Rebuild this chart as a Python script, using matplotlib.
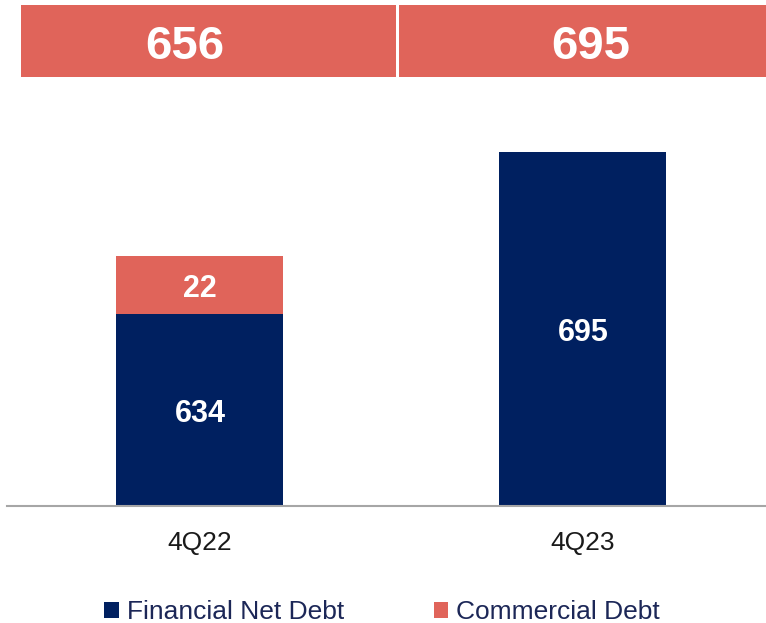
import matplotlib.pyplot as plt

plt.rcParams['font.family'] = ['Liberation Sans', 'DejaVu Sans']

# data
periods = ['4Q22', '4Q23']
financial_net_debt = [634, 695]
commercial_debt = [22, 0]
total_debt = [656, 695]

navy = '#002060'
red = '#E0645A'

fig = plt.figure(figsize=(7.66, 6.23), dpi=100)

# main bar axes (y axis does not start at zero, as in the source slide)
ax = fig.add_axes([0.0091, 0.1878, 0.9909, 0.6517])
x = list(range(len(periods)))
w = 0.436
ymin, ymax = 562, 714.6

ax.bar(x, financial_net_debt, width=w, color=navy, label='Financial Net Debt')
ax.bar(x, commercial_debt, width=w, bottom=financial_net_debt, color=red,
       label='Commercial Debt')
ax.set_xlim(-0.504, 1.478)
ax.set_ylim(ymin, ymax)

lbl = dict(ha='center', va='center', color='white', fontsize=22,
           fontweight='bold', textcoords='offset points', xytext=(0, -3))
for xi, f, c in zip(x, financial_net_debt, commercial_debt):
    ax.annotate(str(f), (xi, (ymin + f) / 2), **lbl)
    if c > 0:
        ax.annotate(str(c), (xi, f + c / 2), **lbl)

for s in ['top', 'right', 'left']:
    ax.spines[s].set_visible(False)
ax.spines['bottom'].set_color('#a6a6a6')
ax.spines['bottom'].set_linewidth(1.5)
ax.set_yticks([])
ax.set_xticks(x)
ax.set_xticklabels(periods, fontsize=19, color='#1a1a1a')
ax.tick_params(axis='x', length=0, pad=18)

# header boxes with totals
hx = fig.add_axes([0.0091, 0.8764, 0.9909, 0.1156])
hx.bar([0.022, 1.009], [1] * len(x), width=0.979, color=red)
hx.set_xlim(ax.get_xlim())
hx.set_ylim(0, 1)
hx.axis('off')
for xt, t in zip([-0.04, 0.021], total_debt):
    hx.annotate(str(t), (xt + x[total_debt.index(t)], 0.5), ha='center',
                va='center', color='white', fontsize=34, fontweight='bold',
                textcoords='offset points', xytext=(0, -4))

leg = fig.legend(loc='center', bbox_to_anchor=(0.4987, 0.0177), ncol=2,
                 frameon=False, fontsize=19, handlelength=0.55,
                 handleheight=0.55, handletextpad=0.3, columnspacing=3.4)
for t in leg.get_texts():
    t.set_color('#1c2757')

fig.savefig('out.png', dpi=100)
